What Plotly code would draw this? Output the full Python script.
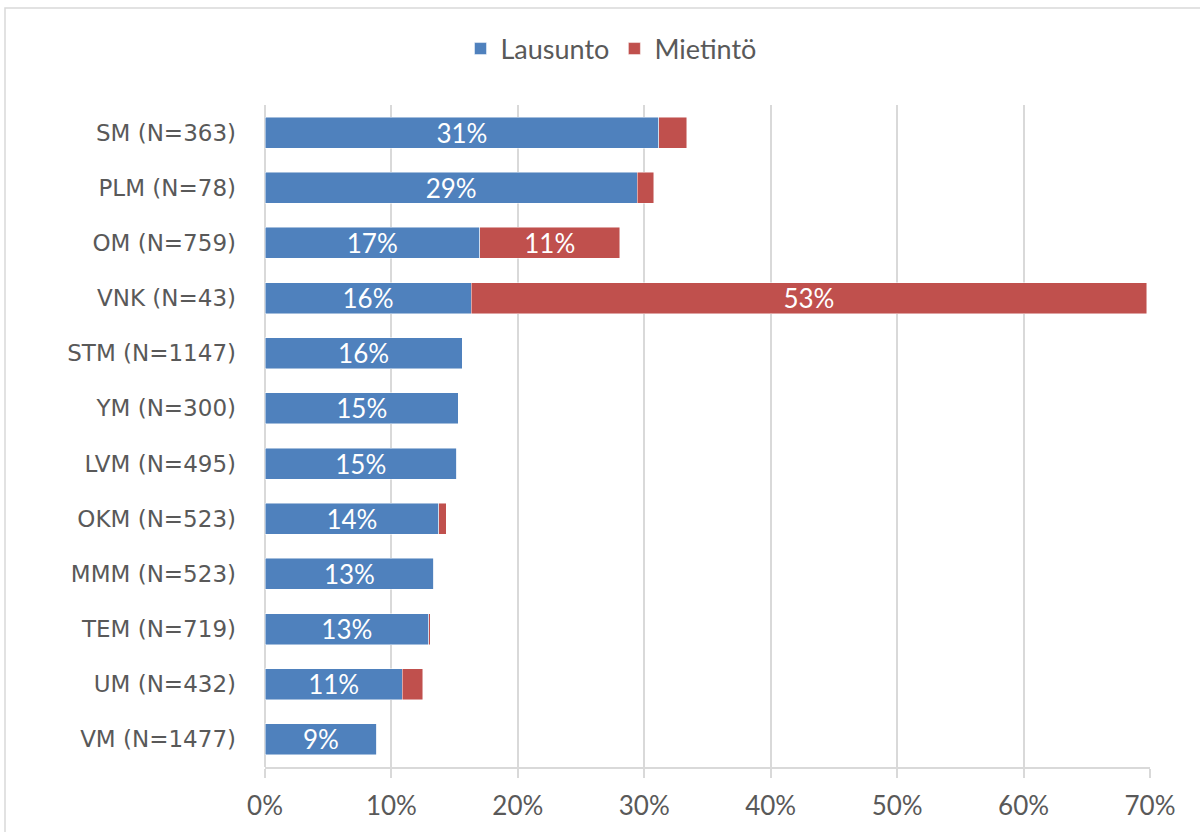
import plotly.graph_objects as go

# Ministries (top to bottom) and shares of items by type
categories = [
    "SM (N=363)", "PLM (N=78)", "OM (N=759)", "VNK (N=43)", "STM (N=1147)",
    "YM (N=300)", "LVM (N=495)", "OKM (N=523)", "MMM (N=523)", "TEM (N=719)",
    "UM (N=432)", "VM (N=1477)",
]
lausunto = [0.3115, 0.2945, 0.1697, 0.1630, 0.1560, 0.1530, 0.1515, 0.1375, 0.1336, 0.1294, 0.1086, 0.0885]
mietinto = [0.0220, 0.0130, 0.1110, 0.5345, 0.0, 0.0, 0.0, 0.0058, 0.0, 0.0013, 0.0163, 0.0]
x_ticks = [0, 0.1, 0.2, 0.3, 0.4, 0.5, 0.6, 0.7]

BLUE = "#4F81BD"
RED = "#C0504D"
GREY_TEXT = "#595959"
GRID = "#D9D9D9"
FONT = "Lato"


def pct_label(v, min_share=0.0):
    return f"{round(v * 100)}%" if v > min_share else ""


fig = go.Figure()
fig.add_trace(go.Bar(
    name="Lausunto", y=categories, x=lausunto, orientation="h",
    marker=dict(color=BLUE, line=dict(color="rgba(255,255,255,0.6)", width=0.8)),
    text=[pct_label(v) for v in lausunto],
    textposition="inside", insidetextanchor="middle",
    textfont=dict(color="white", size=26, family=FONT),
    constraintext="none", hoverinfo="skip",
))
fig.add_trace(go.Bar(
    name="Mietintö", y=categories, x=mietinto, orientation="h",
    marker=dict(color=RED, line=dict(color="rgba(255,255,255,0.6)", width=0.8)),
    text=[pct_label(v, 0.05) for v in mietinto],
    textposition="inside", insidetextanchor="middle",
    textfont=dict(color="white", size=26, family=FONT),
    constraintext="none", hoverinfo="skip",
))

W, H = 1200, 832
ML, MR, MT, MB = 265, 50, 105, 65
pw, ph = W - ML - MR, H - MT - MB


def px_x(p):
    return (p - ML) / pw


def px_y(p):
    return (H - MB - p) / ph


fig.update_layout(
    width=W, height=H,
    margin=dict(l=ML, r=MR, t=MT, b=MB, autoexpand=False),
    barmode="stack", bargap=0.44,
    plot_bgcolor="white", paper_bgcolor="white",
    font=dict(family=FONT, color=GREY_TEXT, size=24),
    legend=dict(
        orientation="h", xref="container", yref="container",
        x=611 / W, xanchor="center", y=1 - 49 / H, yanchor="middle",
        font=dict(size=27, color=GREY_TEXT, family=FONT),
        traceorder="normal", itemwidth=30,
    ),
    xaxis=dict(
        range=[0, 0.7], tickvals=x_ticks, tickformat=".0%",
        showgrid=True, gridcolor=GRID, gridwidth=2,
        zeroline=True, zerolinecolor=GRID, zerolinewidth=2,
        showline=True, linecolor=GRID, linewidth=2,
        ticks="outside", ticklen=9, tickcolor=GRID, tickwidth=2,
        tickfont=dict(size=26, color=GREY_TEXT, family=FONT),
        ticklabelstandoff=6,
    ),
    yaxis=dict(
        categoryorder="array", categoryarray=categories,
        autorange="reversed", showgrid=False,
        ticks="", tickfont=dict(size=23, color=GREY_TEXT, family="DejaVu Sans"),
        ticklabelstandoff=28,
    ),
    shapes=[dict(
        type="rect", xref="paper", yref="paper",
        x0=px_x(5), x1=px_x(W + 10), y0=px_y(H + 10), y1=px_y(8),
        line=dict(color=GRID, width=1.5), fillcolor="rgba(0,0,0,0)", layer="below",
    )],
)

fig.write_html("out.html")
